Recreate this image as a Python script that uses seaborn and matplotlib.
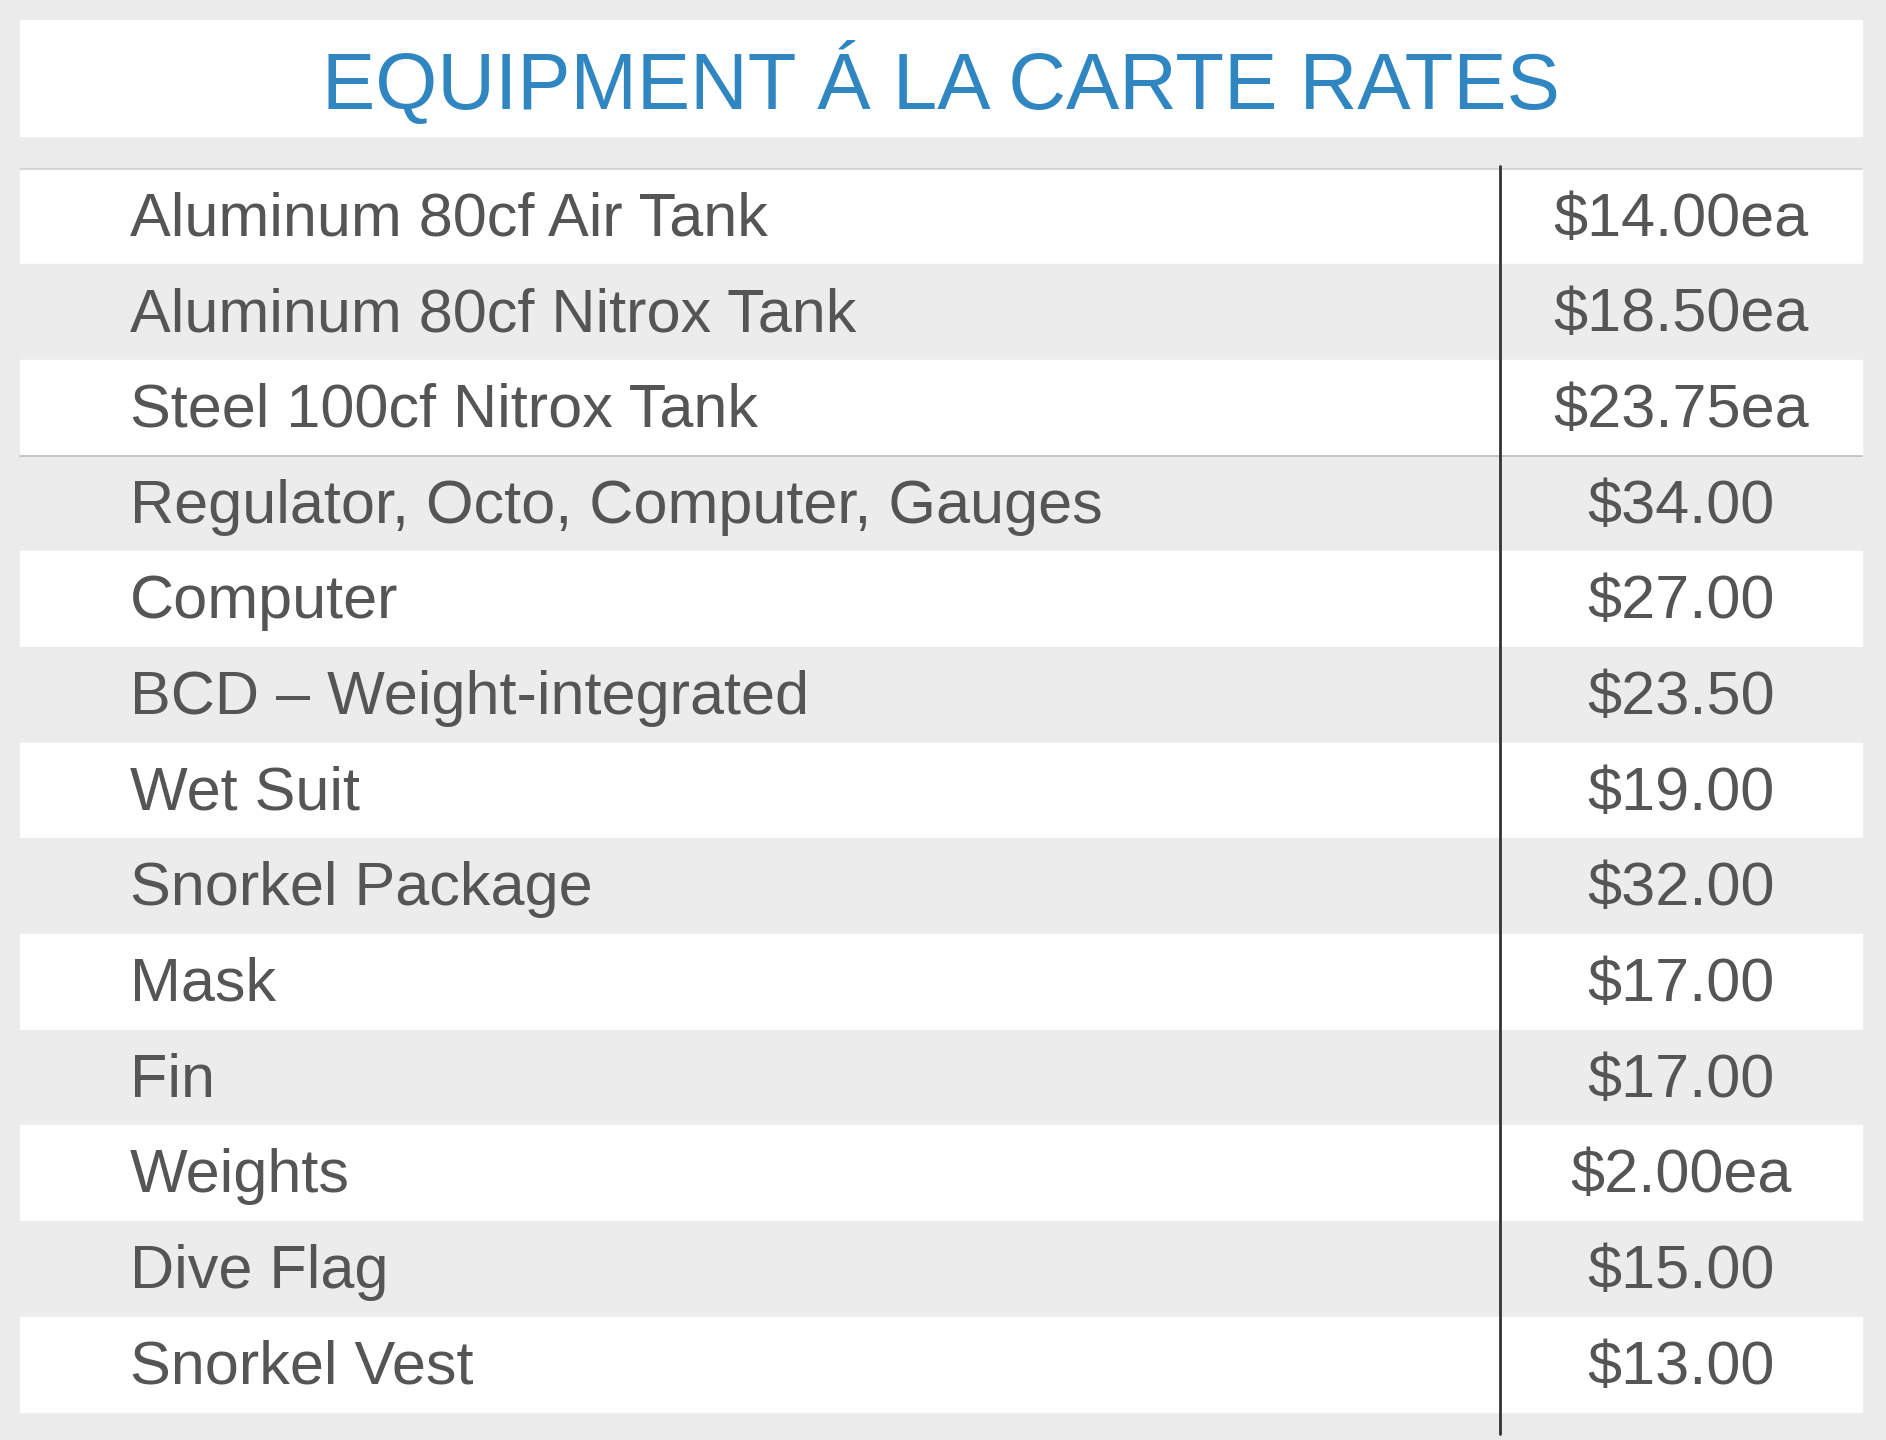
import matplotlib
matplotlib.use("Agg")
import matplotlib.pyplot as plt
import seaborn as sns

title = "EQUIPMENT Á LA CARTE RATES"
items = ["Aluminum 80cf Air Tank", "Aluminum 80cf Nitrox Tank", "Steel 100cf Nitrox Tank",
         "Regulator, Octo, Computer, Gauges", "Computer", "BCD – Weight-integrated",
         "Wet Suit", "Snorkel Package", "Mask", "Fin", "Weights", "Dive Flag", "Snorkel Vest"]
prices = ["$14.00ea", "$18.50ea", "$23.75ea", "$34.00", "$27.00", "$23.50", "$19.00",
          "$32.00", "$17.00", "$17.00", "$2.00ea", "$15.00", "$13.00"]

sns.set_theme(style="white")
plt.rcParams['font.family'] = ['Liberation Sans', 'DejaVu Sans']

W, H = 1565, 1195
fig = plt.figure(figsize=(18.86, 14.4), dpi=100)
fig.patch.set_facecolor("#ebebeb")
ax = fig.add_axes([0, 0, 1, 1])
ax.set_xlim(0, W); ax.set_ylim(H, 0); ax.axis("off")

ax.add_patch(plt.Rectangle((17, 17), 1528, 96, color="white", zorder=1))
ax.text(781, 70, title, ha="center", va="center", fontsize=57.5, color="#2f86c0")

top, bottom = 140, 1172
rh = (bottom - top) / len(items)
for i, (it, pr) in enumerate(zip(items, prices)):
    y0 = top + i * rh
    ax.add_patch(plt.Rectangle((17, y0), 1528, rh, color="white" if i % 2 == 0 else "#ececec", zorder=1))
    ax.text(108, y0 + rh / 2 + 3, it, ha="left", va="center", fontsize=44, color="#555555", zorder=3)
    ax.text(1395, y0 + rh / 2 + 3, pr, ha="center", va="center", fontsize=44, color="#555555", zorder=3)

ax.plot([17, 1545], [top, top], color="#cfcfcf", lw=1.2, zorder=2)
ax.plot([17, 1545], [top + 3 * rh, top + 3 * rh], color="#bdbdbd", lw=1.2, zorder=2)
ax.plot([1245, 1245], [138, 1190], color="#333333", lw=2, zorder=4)

fig.savefig("out.png", dpi=100, facecolor=fig.get_facecolor())
